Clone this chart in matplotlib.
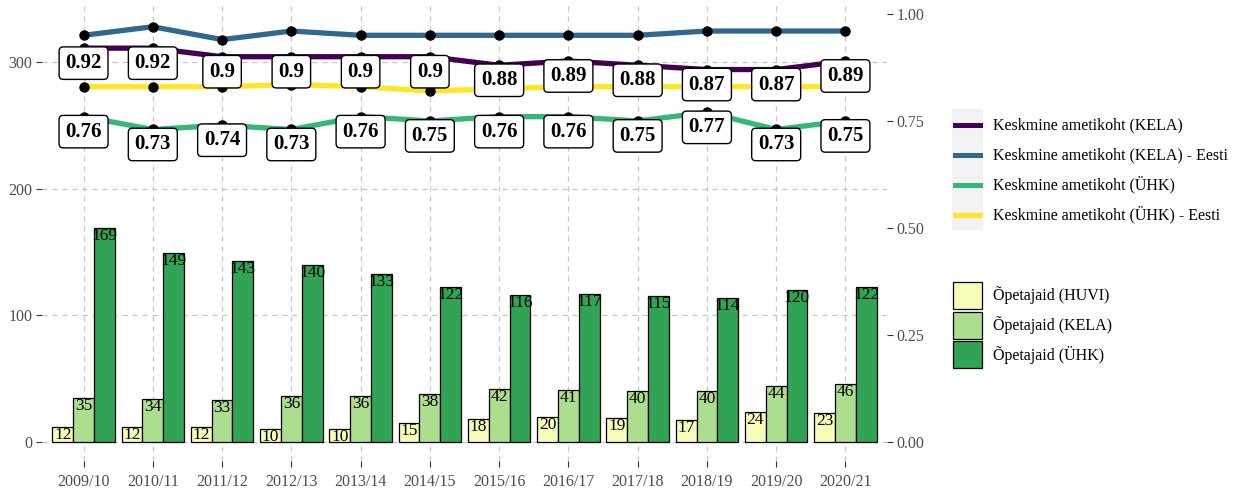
import numpy as np
import matplotlib
matplotlib.use('Agg')
import matplotlib.pyplot as plt
from matplotlib.patches import Rectangle
from matplotlib.lines import Line2D

plt.rcParams['font.family'] = ['Liberation Serif', 'DejaVu Serif']

# data
years = ['2009/10', '2010/11', '2011/12', '2012/13', '2013/14', '2014/15',
         '2015/16', '2016/17', '2017/18', '2018/19', '2019/20', '2020/21']
teachers_huvi = [12, 12, 12, 10, 10, 15, 18, 20, 19, 17, 24, 23]
teachers_kela = [35, 34, 33, 36, 36, 38, 42, 41, 40, 40, 44, 46]
teachers_uhk = [169, 149, 143, 140, 133, 122, 116, 117, 115, 114, 120, 122]

fte_kela = [0.92, 0.92, 0.90, 0.90, 0.90, 0.90, 0.88, 0.89, 0.88, 0.87, 0.87, 0.89]
fte_kela_eesti = [0.95, 0.97, 0.94, 0.96, 0.95, 0.95, 0.95, 0.95, 0.95, 0.96, 0.96, 0.96]
fte_uhk = [0.76, 0.73, 0.74, 0.73, 0.76, 0.75, 0.76, 0.76, 0.75, 0.77, 0.73, 0.75]
fte_uhk_eesti = [0.83, 0.83, 0.83, 0.835, 0.83, 0.82, 0.825, 0.83, 0.83, 0.83, 0.83, 0.83]

bar_series = [('Õpetajaid (HUVI)', teachers_huvi, '#F7FCB9'),
              ('Õpetajaid (KELA)', teachers_kela, '#ADDD8E'),
              ('Õpetajaid (ÜHK)', teachers_uhk, '#31A354')]
line_series = [('Keskmine ametikoht (KELA)', fte_kela, '#440154', True),
               ('Keskmine ametikoht (KELA) - Eesti', fte_kela_eesti, '#31688E', False),
               ('Keskmine ametikoht (ÜHK)', fte_uhk, '#35B779', True),
               ('Keskmine ametikoht (ÜHK) - Eesti', fte_uhk_eesti, '#FDE725', False)]

scale = 2 * max(teachers_uhk)  # secondary axis factor

W, H = 1249, 494
fig = plt.figure(figsize=(W / 100, H / 100), dpi=100)
ax = fig.add_axes([42 / W, 1 - 461 / H, (887 - 42) / W, (461 - 2) / H])
ax2 = ax.twinx()

x = np.arange(len(years))
width = 0.3
for k, (name, vals, col) in enumerate(bar_series):
    xs = x + (k - 1) * width
    ax.bar(xs, vals, width=width, color=col, edgecolor='black', linewidth=0.9, zorder=2)
    for xi, v in zip(xs, vals):
        ax.text(xi, v, str(v), ha='center', va='top', fontsize=12.5, color='black', zorder=3)

ylo, yhi = -15, 347.4
ax.set_ylim(ylo, yhi)
ax.set_xlim(-0.6, len(years) - 0.4)
ax.set_yticks([0, 100, 200, 300])
ax.set_xticks(x)
ax.set_xticklabels(years)
ax.grid(True, color='#c4c4c4', linestyle=(0, (4, 4)), linewidth=0.9)
ax.set_axisbelow(True)

ax2.set_ylim(ylo / scale, yhi / scale)
ax2.set_yticks([0, 0.25, 0.5, 0.75, 1.0])
ax2.set_yticklabels(['%.2f' % t for t in [0, 0.25, 0.5, 0.75, 1.0]])

for a in (ax, ax2):
    for s in a.spines.values():
        s.set_visible(False)
    a.tick_params(length=4, width=0.8, color='#333333', labelcolor='#4d4d4d',
                  labelsize=11.5, pad=3)
ax.tick_params(axis='x', pad=5)

for name, vals, col, labelled in line_series:
    ax2.plot(x, vals, color=col, linewidth=3.8, zorder=2, solid_capstyle='butt')
    ax2.plot(x, vals, 'o', color='black', markersize=6.5, zorder=3)
for name, vals, col, labelled in line_series:
    if not labelled:
        continue
    for xi, v in zip(x, vals):
        ax2.text(xi, v - 0.035, ('%.2f' % v).rstrip('0') if v * 100 % 10 == 0 else '%.2f' % v,
                 ha='center', va='center', fontsize=15, fontweight='bold', zorder=5,
                 bbox=dict(boxstyle='round,pad=0.3,rounding_size=0.2', fc='white',
                           ec='black', lw=1.0))

# legends in pixel coordinates
lg = fig.add_axes([0, 0, 1, 1])
lg.set_xlim(0, W)
lg.set_ylim(H, 0)
lg.axis('off')
lg.add_patch(Rectangle((952, 109), 31, 121, fc='#f2f2f2', ec='none'))
for i, (name, vals, col, labelled) in enumerate(line_series):
    yy = 125 + 30 * i
    lg.add_line(Line2D([955, 980], [yy, yy], color=col, linewidth=3.6))
    lg.text(993, yy, name, ha='left', va='center', fontsize=11.5, color='black')
for i, (name, vals, col) in enumerate(bar_series):
    yy = 282 + 29.5 * i
    lg.add_patch(Rectangle((953, yy), 29, 27, fc=col, ec='black', lw=0.9))
    lg.text(993, yy + 13.5, name, ha='left', va='center', fontsize=11.5, color='black')

fig.savefig('out.png', dpi=100)
